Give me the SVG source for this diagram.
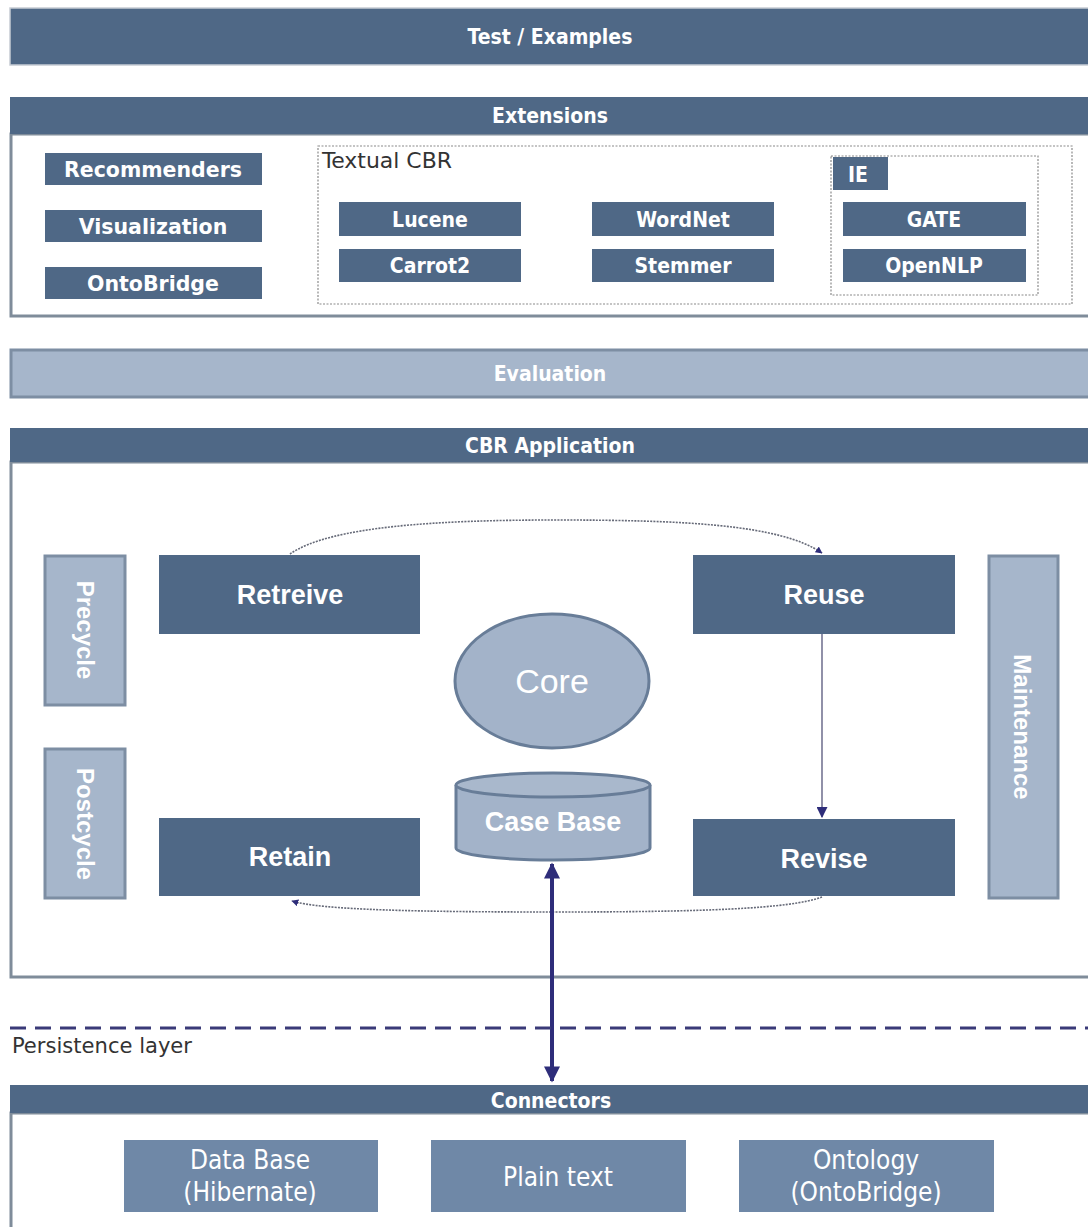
<svg xmlns="http://www.w3.org/2000/svg" width="1088" height="1227" viewBox="0 0 1088 1227">
<defs>
<style>
.dark{fill:#4f6886;}
.hdr{fill:#4f6886;}
.frame{fill:#ffffff;stroke:#7f8c9a;stroke-width:3;}
.light{fill:#a6b6cb;stroke:#7d8ea3;stroke-width:3;}
.mid{fill:#6f88a7;}
.htxt{font-family:"DejaVu Sans Condensed","DejaVu Sans",sans-serif;font-weight:bold;font-size:21px;fill:#ffffff;text-anchor:middle;}
.btxt{font-family:"DejaVu Sans","Liberation Sans",sans-serif;font-weight:bold;font-size:20.5px;fill:#ffffff;text-anchor:middle;}
.ctxt{font-family:"DejaVu Sans Condensed","DejaVu Sans",sans-serif;font-weight:bold;font-size:21px;fill:#ffffff;text-anchor:middle;}
.atxt{font-family:"Liberation Sans",Arial,sans-serif;font-weight:bold;font-size:27px;fill:#ffffff;text-anchor:middle;}
.vtxt{font-family:"Liberation Sans",Arial,sans-serif;font-weight:bold;font-size:24px;fill:#ffffff;text-anchor:middle;}
.ntxt{font-family:"DejaVu Sans Condensed","DejaVu Sans",sans-serif;font-size:26px;fill:#ffffff;text-anchor:middle;}
.thin{font-family:"Liberation Sans Narrow","DejaVu Sans Condensed",sans-serif;font-size:22px;fill:#333333;}
.dotbox{fill:none;stroke:#8a8a8a;stroke-width:1.2;stroke-dasharray:2 1.5;}
.dotline{fill:none;stroke:#666a78;stroke-width:1.6;stroke-dasharray:2 1.2;}
</style>
<marker id="arr" viewBox="0 0 10 10" refX="9" refY="5" markerWidth="7" markerHeight="7" markerUnits="userSpaceOnUse" orient="auto">
<path d="M0,0 L10,5 L0,10 z" fill="#2e2d7a"/>
</marker>
<marker id="arrs" viewBox="0 0 10 10" refX="9" refY="5" markerWidth="11" markerHeight="11" markerUnits="userSpaceOnUse" orient="auto">
<path d="M0,0 L10,5 L0,10 z" fill="#2e2d7a"/>
</marker>
<marker id="arrb" viewBox="0 0 10 10" refX="9" refY="5" markerWidth="4.5" markerHeight="4" orient="auto-start-reverse">
<path d="M0,0 L10,5 L0,10 z" fill="#2e2d7a"/>
</marker>
</defs>

<rect width="1088" height="1227" fill="#ffffff"/>

<g id="test-examples">
<rect x="10" y="8" width="1090" height="57" class="hdr" stroke="#c6ccd4" stroke-width="1.5"/>
<text x="550" y="44" class="htxt">Test / Examples</text>
</g>

<g id="extensions">
<rect x="11" y="134" width="1090" height="182" class="frame"/>
<rect x="10" y="97" width="1090" height="37" class="hdr"/>
<text x="550" y="123" class="htxt">Extensions</text>
</g>

<g id="recommenders"><rect x="45" y="153" width="217" height="32" class="dark"/><text x="153" y="177" class="btxt">Recommenders</text></g>
<g id="visualization"><rect x="45" y="210" width="217" height="32" class="dark"/><text x="153" y="234" class="btxt">Visualization</text></g>
<g id="ontobridge"><rect x="45" y="267" width="217" height="32" class="dark"/><text x="153" y="291" class="btxt">OntoBridge</text></g>

<g id="textual-cbr">
<rect x="318" y="146" width="754" height="158" class="dotbox"/>
<text x="322" y="168" class="thin" textLength="130" lengthAdjust="spacingAndGlyphs">Textual CBR</text>
</g>
<g id="lucene"><rect x="339" y="202" width="182" height="34" class="dark"/><text x="430" y="227" class="ctxt">Lucene</text></g>
<g id="carrot2"><rect x="339" y="249" width="182" height="33" class="dark"/><text x="430" y="273" class="ctxt">Carrot2</text></g>
<g id="wordnet"><rect x="592" y="202" width="182" height="34" class="dark"/><text x="683" y="227" class="ctxt">WordNet</text></g>
<g id="stemmer"><rect x="592" y="249" width="182" height="33" class="dark"/><text x="683" y="273" class="ctxt">Stemmer</text></g>

<g id="ie">
<rect x="831" y="156" width="207" height="139" class="dotbox"/>
<rect x="833" y="157" width="55" height="33" class="dark"/>
<text x="848" y="182" class="ctxt" style="text-anchor:start">IE</text>
</g>
<g id="gate"><rect x="843" y="202" width="183" height="34" class="dark"/><text x="934" y="227" class="ctxt">GATE</text></g>
<g id="opennlp"><rect x="843" y="249" width="183" height="33" class="dark"/><text x="934" y="273" class="ctxt">OpenNLP</text></g>

<g id="evaluation">
<rect x="11" y="350" width="1090" height="47" class="light"/>
<text x="550" y="381" class="htxt">Evaluation</text>
</g>

<g id="cbr-application">
<rect x="11" y="462" width="1090" height="515" class="frame"/>
<rect x="10" y="428" width="1090" height="34" class="hdr"/>
<text x="550" y="453" class="htxt">CBR Application</text>
</g>

<g id="precycle"><rect x="45" y="556" width="80" height="149" class="light"/><text transform="translate(77,630) rotate(90)" class="vtxt">Precycle</text></g>
<g id="postcycle"><rect x="45" y="749" width="80" height="149" class="light"/><text transform="translate(77,824) rotate(90)" class="vtxt">Postcycle</text></g>
<g id="maintenance"><rect x="989" y="556" width="69" height="342" class="light"/><text transform="translate(1014,727) rotate(90)" class="vtxt">Maintenance</text></g>

<g id="retreive"><rect x="159" y="555" width="261" height="79" class="dark"/><text x="290" y="604" class="atxt">Retreive</text></g>
<g id="reuse"><rect x="693" y="555" width="262" height="79" class="dark"/><text x="824" y="604" class="atxt">Reuse</text></g>
<g id="retain"><rect x="159" y="818" width="261" height="78" class="dark"/><text x="290" y="866" class="atxt">Retain</text></g>
<g id="revise"><rect x="693" y="819" width="262" height="77" class="dark"/><text x="824" y="868" class="atxt">Revise</text></g>

<g id="core">
<ellipse cx="552" cy="681" rx="97" ry="67" fill="#a3b3c9" stroke="#687d98" stroke-width="3"/>
<text x="552" y="693" font-family="'Liberation Sans',Arial,sans-serif" font-size="34" fill="#ffffff" text-anchor="middle">Core</text>
</g>

<g id="case-base">
<path d="M456,785 L456,848 A97,12 0 0 0 650,848 L650,785" fill="#a3b3c9" stroke="#687d98" stroke-width="3"/>
<ellipse cx="553" cy="785" rx="97" ry="12" fill="#a9b8cc" stroke="#687d98" stroke-width="3"/>
<text x="553" y="831" class="atxt">Case Base</text>
</g>

<g id="connectors">
<path d="M290,554 C330,526 440,520 555,520 C680,520 780,524 822,553" class="dotline" marker-end="url(#arr)"/>
<path d="M822,634 L822,817" fill="none" stroke="#55557a" stroke-width="1.3" marker-end="url(#arrs)"/>
<path d="M822,897 C790,909 700,912 555,912 C420,912 320,910 292,901" class="dotline" marker-end="url(#arr)"/>
<path d="M552,864 L552,1081" fill="none" stroke="#2e2d7a" stroke-width="4" marker-start="url(#arrb)" marker-end="url(#arrb)"/>
<path d="M10,1028 L1088,1028" fill="none" stroke="#3a3a78" stroke-width="3" stroke-dasharray="16 9"/>
</g>

<g id="persistence-layer">
<text x="12" y="1053" class="thin" textLength="180" lengthAdjust="spacingAndGlyphs">Persistence layer</text>
</g>

<g id="connectors-layer">
<rect x="11" y="1113" width="1090" height="130" class="frame"/>
<rect x="10" y="1085" width="1090" height="28" class="hdr"/>
<text x="551" y="1108" class="htxt">Connectors</text>
</g>

<g id="data-base"><rect x="124" y="1140" width="254" height="72" class="mid"/><text x="250" y="1169" class="ntxt">Data Base</text><text x="250" y="1201" class="ntxt">(Hibernate)</text></g>
<g id="plain-text"><rect x="431" y="1140" width="255" height="72" class="mid"/><text x="558" y="1186" class="ntxt">Plain text</text></g>
<g id="ontology"><rect x="739" y="1140" width="255" height="72" class="mid"/><text x="866" y="1169" class="ntxt">Ontology</text><text x="866" y="1201" class="ntxt">(OntoBridge)</text></g>
</svg>
